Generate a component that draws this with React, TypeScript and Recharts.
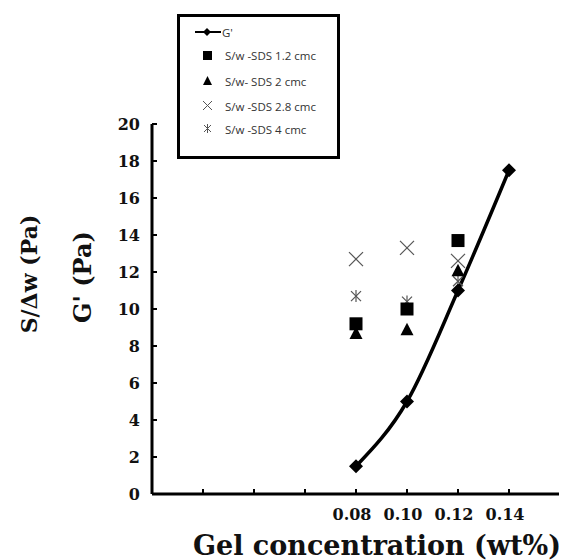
import React from 'react';
import { ComposedChart, Line, Scatter, XAxis, YAxis } from 'recharts';

const concentrations = [0.08, 0.1, 0.12, 0.14];
const gPrime = [1.5, 5.0, 11.0, 17.5];
const sdsConcentrations = [0.08, 0.1, 0.12];
const sds12 = [9.2, 10.0, 13.7];
const sds2 = [8.7, 8.9, 12.1];
const sds28 = [12.7, 13.3, 12.6];
const sds4 = [10.7, 10.4, 11.5];
const xTicks = [0, 0.02, 0.04, 0.06, 0.08, 0.1, 0.12, 0.14, 0.16];
const xTickLabels = ['', '', '', '', '0.08', '0.10', '0.12', '0.14', ''];
const yTicks = [0, 2, 4, 6, 8, 10, 12, 14, 16, 18, 20];
const legendLabels = ["G'", 'S/w -SDS 1.2 cmc', 'S/w- SDS 2 cmc', 'S/w -SDS 2.8 cmc', 'S/w -SDS 4 cmc'];
const xLabel = 'Gel concentration (wt%)';
const yLabelOuter = 'S/\u0394w (Pa)';
const yLabelInner = "G' (Pa)";

const SERIF = '"DejaVu Serif", serif';
const GREY = '#555';

const gData = concentrations.map((x, i) => ({ x, y: gPrime[i] }));
const mk = (arr: number[]) => sdsConcentrations.map((x, i) => ({ x, y: arr[i] }));
const d12 = mk(sds12);
const d2 = mk(sds2);
const d28 = mk(sds28);
const d4 = mk(sds4);

const Diamond = (props: any) => {
  const { cx, cy } = props;
  if (cx == null || cy == null) return null;
  const r = 7;
  return <path d={`M${cx},${cy - r}L${cx + r},${cy}L${cx},${cy + r}L${cx - r},${cy}Z`} fill="#000" />;
};
const SquareShape = (props: any) => {
  const { cx, cy } = props;
  return <rect x={cx - 6.5} y={cy - 6.5} width={13} height={13} fill="#000" />;
};
const TriangleShape = (props: any) => {
  const { cx, cy } = props;
  return <path d={`M${cx},${cy - 6.5}L${cx + 6.5},${cy + 6}L${cx - 6.5},${cy + 6}Z`} fill="#000" />;
};
const CrossShape = (props: any) => {
  const { cx, cy } = props;
  const r = 7;
  return (
    <g stroke={GREY} strokeWidth={1.2}>
      <line x1={cx - r} y1={cy - r} x2={cx + r} y2={cy + r} />
      <line x1={cx - r} y1={cy + r} x2={cx + r} y2={cy - r} />
    </g>
  );
};
const AsteriskShape = (props: any) => {
  const { cx, cy } = props;
  const r = 5;
  return (
    <g stroke={GREY} strokeWidth={1.2}>
      <line x1={cx - r} y1={cy - r} x2={cx + r} y2={cy + r} />
      <line x1={cx - r} y1={cy + r} x2={cx + r} y2={cy - r} />
      <line x1={cx} y1={cy - 6} x2={cx} y2={cy + 6} />
    </g>
  );
};

const XTick = (props: any) => {
  const { x, y, index } = props;
  return (
    <g>
      <line x1={x} y1={y} x2={x} y2={y - 5} stroke="#000" strokeWidth={2} />
      <text x={x - 4} y={y + 26} textAnchor="middle" fontFamily={SERIF} fontWeight="bold" fontSize={16} fill="#111">
        {xTickLabels[index]}
      </text>
    </g>
  );
};
const YTick = (props: any) => {
  const { x, y, payload } = props;
  return (
    <g>
      <line x1={x} y1={y} x2={x + 5} y2={y} stroke="#000" strokeWidth={2} />
      <text x={x - 12} y={y + 6} textAnchor="end" fontFamily={SERIF} fontWeight="bold" fontSize={16} fill="#111">
        {payload.value}
      </text>
    </g>
  );
};

const YLabels = (props: any) => {
  const vb = props.viewBox || {};
  const cy = vb.y + vb.height / 2 - 35;
  const x1 = vb.x - 55;
  const x2 = vb.x - 1;
  return (
    <g fontFamily={SERIF} fontWeight="bold" fill="#111">
      <text x={x1} y={cy} transform={`rotate(-90 ${x1} ${cy})`} textAnchor="middle" fontSize={22}>
        {yLabelOuter}
      </text>
      <text x={x2} y={cy + 3} transform={`rotate(-90 ${x2} ${cy + 3})`} textAnchor="middle" fontSize={24}>
        {yLabelInner}
      </text>
    </g>
  );
};
const XLabel = (props: any) => {
  const vb = props.viewBox || {};
  return (
    <text x={vb.x + vb.width / 2 + 21} y={vb.y + 61} textAnchor="middle" fontFamily={SERIF} fontWeight="bold" fontSize={27} fill="#111">
      {xLabel}
    </text>
  );
};

const legendIcons = [
  <svg width={30} height={14} key="g">
    <line x1={0} y1={7} x2={26} y2={7} stroke="#000" strokeWidth={2} />
    <path d="M12,3L16,7L12,11L8,7Z" fill="#000" />
  </svg>,
  <svg width={30} height={14} key="s">
    <rect x={8} y={3} width={9} height={9} fill="#000" />
  </svg>,
  <svg width={30} height={14} key="t">
    <path d="M12.5,2L17,11L8,11Z" fill="#000" />
  </svg>,
  <svg width={30} height={14} key="c">
    <g stroke={GREY} strokeWidth={1}>
      <line x1={8} y1={2} x2={17} y2={11} />
      <line x1={8} y1={11} x2={17} y2={2} />
    </g>
  </svg>,
  <svg width={30} height={14} key="a">
    <g stroke={GREY} strokeWidth={1}>
      <line x1={9} y1={3} x2={16} y2={10} />
      <line x1={9} y1={10} x2={16} y2={3} />
      <line x1={12.5} y1={2} x2={12.5} y2={11} />
    </g>
  </svg>,
];

export default function App() {
  return (
    <div style={{ position: 'relative', width: 559, height: 552 }}>
      <ComposedChart width={559} height={552} margin={{ top: 116, right: 7, bottom: 26, left: 84 }}>
        <XAxis
          type="number"
          dataKey="x"
          domain={[0, 0.16]}
          ticks={xTicks}
          interval={0}
          tickSize={0}
          tickMargin={0}
          tick={<XTick />}
          axisLine={{ stroke: '#000', strokeWidth: 3 }}
          height={40}
          allowDataOverflow
          label={<XLabel />}
        />
        <YAxis
          type="number"
          domain={[0, 20]}
          ticks={yTicks}
          interval={0}
          tickSize={0}
          tickMargin={0}
          tick={<YTick />}
          axisLine={{ stroke: '#000', strokeWidth: 3 }}
          width={60}
          label={<YLabels />}
        />
        <Scatter data={d28} dataKey="y" shape={<CrossShape />} isAnimationActive={false} />
        <Scatter data={d4} dataKey="y" shape={<AsteriskShape />} isAnimationActive={false} />
        <Scatter data={d12} dataKey="y" shape={<SquareShape />} isAnimationActive={false} />
        <Scatter data={d2} dataKey="y" shape={<TriangleShape />} isAnimationActive={false} />
        <Line
          data={gData}
          dataKey="y"
          type="monotone"
          stroke="#000"
          strokeWidth={3.5}
          dot={<Diamond />}
          activeDot={false}
          isAnimationActive={false}
        />
      </ComposedChart>
      <div
        style={{
          position: 'absolute',
          left: 169,
          top: 6,
          width: 163,
          height: 145,
          boxSizing: 'border-box',
          border: '3px solid #000',
          background: '#fff',
          fontFamily: '"Open Sans", sans-serif',
          fontSize: 11.5,
          color: '#333',
        }}
      >
        {legendLabels.map((label, i) => (
          <div
            key={label}
            style={{
              position: 'absolute',
              left: 15,
              top: [15, 38, 64, 89, 112][i] - 7,
              height: 14,
              display: 'flex',
              alignItems: 'center',
              whiteSpace: 'nowrap',
            }}
          >
            {legendIcons[i]}
            <span style={{ marginLeft: i === 0 ? -3 : 0 }}>{label}</span>
          </div>
        ))}
      </div>
    </div>
  );
}
